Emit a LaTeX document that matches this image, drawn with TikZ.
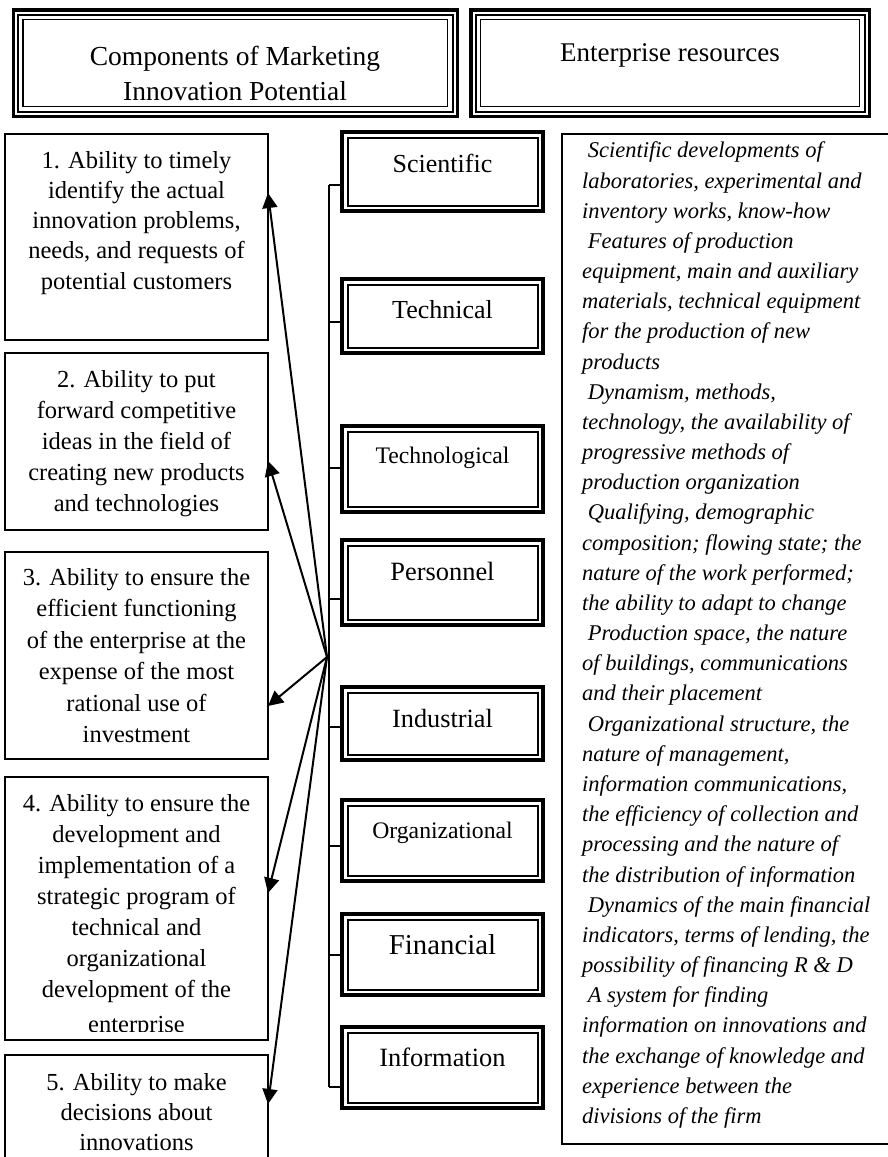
\documentclass[tikz,border=0pt]{standalone}
\usepackage{fontspec}
\setmainfont{Liberation Serif}
\usetikzlibrary{arrows.meta,calc}
\tikzset{
  hdr/.style={draw, line width=3.6pt, outer sep=0pt, inner sep=0pt},
  resbox/.style={draw, line width=3.8pt, outer sep=0pt, inner sep=0pt, minimum width=201pt},
  abox/.style={draw, line width=2pt, outer sep=0pt, inner sep=0pt, minimum width=263pt},
  atext/.style={anchor=north, align=center, inner sep=0pt},
  arr/.style={line width=2pt, -{Triangle[length=15pt,width=15pt]}},
  bus/.style={line width=1.6pt},
}
\newcommand{\ind}{\hspace*{5.6pt}}
\begin{document}
\begin{tikzpicture}[x=1pt,y=-1pt]
\useasboundingbox (0,0) rectangle (888,1157);
\fill[white] (0,0) rectangle (888,1157);

% ---------- headers ----------
\node[hdr, minimum width=443.8pt, minimum height=106.3pt] (h1) at (235.4,63.15) {};
\node[hdr, minimum width=398.5pt, minimum height=106.3pt] (h2) at (670.05,63.15) {};
\foreach \n in {h1,h2}{
  \draw[line width=2pt] ([shift={(4.8,4.8)}]\n.north west) rectangle ([shift={(-4.8,-4.8)}]\n.south east);
  \draw[line width=1.2pt] ([shift={(9.5,9.5)}]\n.north west) rectangle ([shift={(-9.5,-9.5)}]\n.south east);
}
\node[atext, font=\fontsize{27.5}{35}\selectfont] (h1t) at (235,40.5) {\strut Components of Marketing\\Innovation Potential};
\node[anchor=base, inner sep=0pt, font=\fontsize{27}{27}\selectfont] (h2t) at (670,61) {Enterprise resources};

% ---------- resource boxes ----------
\foreach \nm/\cy/\h/\bl/\fs/\ty/\txt in {
  sci/171.5/79/172/26/185/Scientific,
  tec/316/74/318/26/322/Technical,
  tgy/469/86/463/23.7/468/Technological,
  per/582.5/85/580/26.4/599/Personnel,
  ind/723.5/73/727/26.3/727/Industrial,
  org/840.5/81/838/23.7/846/Organizational,
  fin/954.5/81/954/28.8/955/Financial,
  inf/1067.5/81/1066/26.4/1087/Information}{
  \node[resbox, minimum height=\h pt] (\nm) at (442.5,\cy) {};
  \draw[line width=2pt] ([shift={(5.5,5.5)}]\nm.north west) rectangle ([shift={(-5.5,-5.5)}]\nm.south east);
  \node[anchor=base, inner sep=0pt, font=\fontsize{\fs}{\fs}\selectfont] (\nm-t) at (442.5,\bl) {\txt};
  \coordinate (\nm-j) at (329,\ty);
  \draw[bus] (\nm-j) -- (\nm-j -| \nm.west);
}
\draw[bus] (sci-j) -- (inf-j);

% ---------- ability boxes ----------
\node[abox, minimum height=205.5pt] (b1) at (136.5,236.75) {};
\node[abox, minimum height=177.3pt] (b2) at (136.5,441.65) {};
\node[abox, minimum height=206.7pt] (b3) at (136.5,655.35) {};
\node[abox, minimum height=262.7pt] (b4) at (136.5,908.65) {};
\node[abox, minimum height=120pt] (b5) at (136.5,1114.5) {};

\node[atext, font=\fontsize{24.5}{30.2}\selectfont] (t1) at (136.5,146.9)
  {\strut 1. Ability to timely\\identify the actual\\innovation problems,\\needs, and requests of\\potential customers};
\node[atext, font=\fontsize{24.5}{31}\selectfont] (t2) at (136.5,365.3)
  {\strut 2. Ability to put\\forward competitive\\ideas in the field of\\creating new products\\and technologies};
\node[atext, font=\fontsize{24.5}{31.5}\selectfont] (t3) at (136.5,563)
  {\strut 3. Ability to ensure the\\efficient functioning\\of the enterprise at the\\expense of the most\\rational use of\\investment};
\begin{scope}
  \clip (7,779) rectangle (266,1031.5);
  \node[atext, font=\fontsize{24.5}{31}\selectfont] (t4) at (136.5,789.3)
    {\strut 4. Ability to ensure the\\development and\\implementation of a\\strategic program of\\technical and\\organizational\\development of the\\[4.5pt]enterprise};
\end{scope}
\node[atext, font=\fontsize{24.5}{30}\selectfont] (t5) at (136.5,1069)
  {\strut 5. Ability to make\\decisions about\\innovations};

% ---------- arrows ----------
\coordinate (hub) at (327,657);
\coordinate (p1) at (268,193);
\coordinate (p2) at (268,461);
\coordinate (p3) at (268,706);
\coordinate (p4) at (268,893);
\coordinate (p5) at (268,1104);
\foreach \p in {p1,p2,p3,p4,p5}{\draw[arr] (hub) -- (\p);}

% ---------- resource descriptions ----------
\node[draw, line width=2pt, outer sep=0pt, inner sep=0pt, minimum width=330pt, minimum height=1010pt] (rbox) at (727,639) {};
\node[anchor=north west, align=left, inner sep=0pt, font=\itshape\fontsize{22.5}{30.17}\selectfont] (rt) at (582,136.6)
{\strut\ind Scientific developments of\\
laboratories, experimental and\\
inventory works, know-how\\
\ind Features of production\\
equipment, main and auxiliary\\
materials, technical equipment\\
for the production of new\\
products\\
\ind Dynamism, methods,\\
technology, the availability of\\
progressive methods of\\
production organization\\
\ind Qualifying, demographic\\
composition; flowing state; the\\
nature of the work performed;\\
the ability to adapt to change\\
\ind Production space, the nature\\
of buildings, communications\\
and their placement\\
\ind Organizational structure, the\\
nature of management,\\
information communications,\\
the efficiency of collection and\\
processing and the nature of\\
the distribution of information\\
\ind Dynamics of the main financial\\
indicators, terms of lending, the\\
possibility of financing R \& D\\
\ind A system for finding\\
information on innovations and\\
the exchange of knowledge and\\
experience between the\\
divisions of the firm};
\end{tikzpicture}
\end{document}
